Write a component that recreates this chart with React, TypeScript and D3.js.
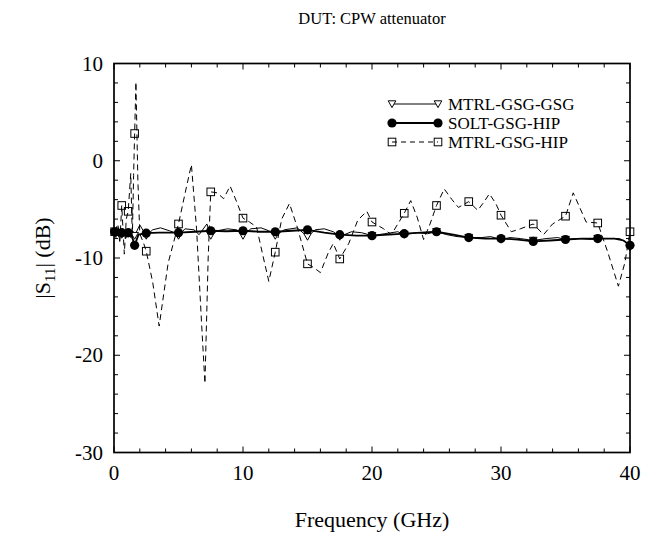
import React from "react";
import * as d3 from "d3";

const W = 660;
const H = 535;

// MTRL-GSG-GSG (solid thin, open down-triangles)
const gsgFreq = [0.05, 0.15, 0.25, 0.35, 0.45, 0.6, 0.75, 0.9, 1.1, 1.3, 1.45, 1.6, 2.0, 2.5, 3.0, 3.6, 4.3, 4.7, 5.0, 5.5, 6.2, 6.6, 7.2, 7.5, 8.0, 8.8, 9.5, 10.0, 10.6, 11.4, 12.0, 12.5, 13.2, 14.2, 15.0, 15.6, 16.3, 17.0, 17.5, 18.4, 19.2, 20.0, 21.0, 22.0, 22.5, 23.5, 24.3, 25.0, 25.8, 26.6, 27.5, 28.5, 29.2, 30.0, 30.7, 31.5, 32.5, 33.5, 34.4, 35.0, 36.0, 37.0, 37.5, 38.3, 39.2, 39.6, 40.0];
const gsgVal = [-7.4, -7.9, -7.0, -7.8, -7.2, -7.6, -7.1, -8.0, -7.5, -7.9, -7.2, -7.7, -6.6, -7.7, -7.1, -6.9, -7.2, -7.4, -7.7, -7.0, -7.1, -7.6, -6.5, -7.7, -7.2, -7.0, -7.1, -7.7, -7.0, -6.9, -7.2, -7.7, -7.1, -6.9, -7.8, -7.1, -7.0, -7.3, -7.8, -7.3, -7.4, -7.7, -7.5, -7.3, -7.6, -7.4, -7.5, -7.3, -7.6, -7.8, -7.9, -7.9, -7.8, -8.1, -7.9, -8.0, -8.2, -8.0, -7.9, -8.1, -8.0, -8.1, -8.0, -8.0, -8.0, -8.3, -8.9];

// SOLT-GSG-HIP (solid, filled circles)
const soltFreq = [0.05, 0.3, 0.6, 0.85, 1.1, 1.35, 1.6, 1.9, 2.5, 3.5, 5.0, 6.3, 7.5, 8.7, 10.0, 11.3, 12.5, 13.8, 15.0, 16.3, 17.5, 18.8, 20.0, 21.3, 22.5, 23.8, 25.0, 26.3, 27.5, 28.8, 30.0, 31.3, 32.5, 33.8, 35.0, 36.3, 37.5, 38.8, 39.5, 40.0];
const soltVal = [-7.3, -7.5, -7.4, -7.3, -7.4, -7.6, -8.7, -7.6, -7.45, -7.4, -7.4, -7.3, -7.2, -7.25, -7.2, -7.3, -7.3, -7.2, -7.1, -7.4, -7.6, -7.7, -7.7, -7.6, -7.5, -7.4, -7.3, -7.6, -7.9, -8.0, -8.0, -8.1, -8.3, -8.2, -8.1, -8.0, -8.0, -8.0, -8.2, -8.7];

// MTRL-GSG-HIP (dashed, open squares)
const hipFreq = [0.05, 0.3, 0.45, 0.6, 0.8, 0.95, 1.1, 1.3, 1.42, 1.52, 1.6, 1.7, 1.85, 2.0, 2.3, 2.5, 3.0, 3.5, 4.2, 5.0, 5.6, 6.0, 6.4, 6.8, 7.05, 7.3, 7.5, 8.0, 8.5, 9.0, 9.5, 10.0, 10.5, 11.05, 11.5, 12.0, 12.5, 13.0, 13.6, 14.2, 15.0, 15.5, 16.0, 16.6, 17.0, 17.5, 18.2, 18.9, 19.6, 20.0, 20.9, 21.5, 22.0, 22.5, 23.0, 23.5, 24.0, 24.5, 25.0, 25.6, 26.2, 26.7, 27.5, 28.2, 28.7, 29.1, 29.6, 30.0, 30.8, 31.5, 32.5, 33.3, 34.0, 35.0, 35.6, 36.1, 36.6, 37.5, 38.3, 39.1, 39.6, 40.0];
const hipVal = [-7.3, -6.5, -8.5, -4.6, -9.6, -6.0, -5.2, -1.3, -8.0, -1.5, 2.8, 8.1, -2.0, -7.5, -8.5, -9.3, -12.5, -17.0, -10.5, -6.5, -2.8, -0.4, -7.0, -17.0, -22.9, -10.0, -3.2, -3.3, -3.9, -2.6, -4.2, -5.9, -6.3, -6.8, -9.5, -12.4, -9.4, -6.0, -4.4, -6.8, -10.6, -11.0, -11.5, -9.5, -8.5, -10.1, -8.5, -6.1, -5.2, -6.3, -7.0, -7.6, -6.5, -5.4, -4.1, -5.8, -8.1, -6.5, -4.6, -2.9, -4.0, -4.8, -4.2, -5.1, -4.2, -3.4, -4.4, -5.6, -7.3, -7.0, -6.5, -7.6, -6.5, -5.7, -3.3, -4.8, -6.3, -6.4, -9.5, -12.9, -10.5, -7.3];

// marker positions (GHz)
const markerFreqs = [0.05, 0.6, 1.1, 1.6, 2.5, 5, 7.5, 10, 12.5, 15, 17.5, 20, 22.5, 25, 27.5, 30, 32.5, 35, 37.5, 40];

const xTicks = [0, 10, 20, 30, 40];
const yTicks = [-30, -20, -10, 0, 10];
const seriesNames = ["MTRL-GSG-GSG", "SOLT-GSG-HIP", "MTRL-GSG-HIP"];

const FONT = '"Liberation Serif", "Times New Roman", Times, serif';

const x = d3.scaleLinear().domain([0, 40]).range([114, 630]);
const y = d3.scaleLinear().domain([-30, 10]).range([452.5, 63.5]);

type Pt = [number, number];
const zip = (f: number[], v: number[]): Pt[] => f.map((d, i) => [d, v[i]]);
const line = d3
  .line<Pt>()
  .x((d) => x(d[0]))
  .y((d) => y(d[1]));

const markerPts = (pts: Pt[]) =>
  pts.filter((p) => markerFreqs.some((m) => Math.abs(m - p[0]) < 1e-9));

const Tri = ({ cx, cy }: { cx: number; cy: number }) => (
  <path
    d={`M${cx - 3.8},${cy - 3.2} L${cx + 3.8},${cy - 3.2} L${cx},${cy + 3.6} Z`}
    fill="white"
    stroke="black"
    strokeWidth={1}
  />
);
const Circ = ({ cx, cy }: { cx: number; cy: number }) => (
  <circle cx={cx} cy={cy} r={4.6} fill="black" />
);
const Sq = ({ cx, cy }: { cx: number; cy: number }) => (
  <rect x={cx - 3.8} y={cy - 3.8} width={7.6} height={7.6} fill="none" stroke="black" strokeWidth={1} />
);

const tStyle = { fontFamily: FONT };

export default function App() {
  const gsg = zip(gsgFreq, gsgVal);
  const solt = zip(soltFreq, soltVal);
  const hip = zip(hipFreq, hipVal);

  const [x0, x1] = x.range();
  const [y0, y1] = y.range();

  const xMinor = d3.range(0, 40.001, 2);
  const yMinor = d3.range(-30, 10.001, 2);

  const legendY = [104, 123, 142];

  return (
    <svg
      width={W}
      height={H}
      style={{ position: "absolute", left: 0, top: 0, background: "white", fontFamily: FONT }}
    >
      <rect width={W} height={H} fill="white" />
      <text x={372} y={24} fontSize={16.5} textAnchor="middle" style={tStyle}>
        DUT: CPW attenuator
      </text>

      <defs>
        <clipPath id="clip">
          <rect x={x0} y={y1} width={x1 - x0} height={y0 - y1} />
        </clipPath>
      </defs>
      {/* series */}
      <g clipPath="url(#clip)">
        <path d={line(hip) || ""} fill="none" stroke="black" strokeWidth={1} strokeDasharray="6,4" />
        <path d={line(gsg) || ""} fill="none" stroke="black" strokeWidth={1} />
        <path d={line(solt) || ""} fill="none" stroke="black" strokeWidth={1.8} />
      </g>
      {markerPts(hip).map((p, i) => (
        <Sq key={"s" + i} cx={x(p[0])} cy={y(p[1])} />
      ))}
      {markerPts(gsg).map((p, i) => (
        <Tri key={"t" + i} cx={x(p[0])} cy={y(p[1])} />
      ))}
      {markerPts(solt).map((p, i) => (
        <Circ key={"c" + i} cx={x(p[0])} cy={y(p[1])} />
      ))}

      {/* frame */}
      <rect x={x0} y={y1} width={x1 - x0} height={y0 - y1} fill="none" stroke="black" strokeWidth={1.7} />
      {/* ticks */}
      {xMinor.map((t) => {
        const major = t % 10 === 0;
        const L = major ? 6 : 4;
        return (
          <g key={"xt" + t}>
            <line x1={x(t)} x2={x(t)} y1={y0} y2={y0 - L} stroke="black" strokeWidth={1} />
            <line x1={x(t)} x2={x(t)} y1={y1} y2={y1 + L} stroke="black" strokeWidth={1} />
          </g>
        );
      })}
      {yMinor.map((t) => {
        const major = t % 10 === 0;
        const L = major ? 6 : 4;
        return (
          <g key={"yt" + t}>
            <line x1={x0} x2={x0 + L} y1={y(t)} y2={y(t)} stroke="black" strokeWidth={1} />
            <line x1={x1} x2={x1 - L} y1={y(t)} y2={y(t)} stroke="black" strokeWidth={1} />
          </g>
        );
      })}
      {xTicks.map((t) => (
        <text key={"xl" + t} x={x(t)} y={480} fontSize={21} textAnchor="middle" style={tStyle}>
          {t}
        </text>
      ))}
      {yTicks.map((t) => (
        <text key={"yl" + t} x={103} y={y(t) + 7} fontSize={21} textAnchor="end" style={tStyle}>
          {t}
        </text>
      ))}
      <text x={372} y={527} fontSize={22} textAnchor="middle" style={tStyle}>
        Frequency (GHz)
      </text>
      <text transform="translate(50,258) rotate(-90)" fontSize={22} textAnchor="middle" style={tStyle}>
        |S<tspan dy={5} fontSize={15}>11</tspan>
        <tspan dy={-5}>| (dB)</tspan>
      </text>

      {/* legend */}
      {seriesNames.map((name, i) => {
        const ly = legendY[i];
        return (
          <g key={name}>
            <line
              x1={392}
              x2={438}
              y1={ly}
              y2={ly}
              stroke="black"
              strokeWidth={i === 1 ? 1.8 : 1}
              strokeDasharray={i === 2 ? "5,4" : undefined}
            />
            {i === 0 && (
              <>
                <Tri cx={392} cy={ly} />
                <Tri cx={438} cy={ly} />
              </>
            )}
            {i === 1 && (
              <>
                <Circ cx={392} cy={ly} />
                <Circ cx={438} cy={ly} />
              </>
            )}
            {i === 2 && (
              <>
                <Sq cx={392} cy={ly} />
                <Sq cx={438} cy={ly} />
              </>
            )}
            <text x={448} y={ly + 5.5} fontSize={17} style={tStyle}>
              {name}
            </text>
          </g>
        );
      })}
    </svg>
  );
}
